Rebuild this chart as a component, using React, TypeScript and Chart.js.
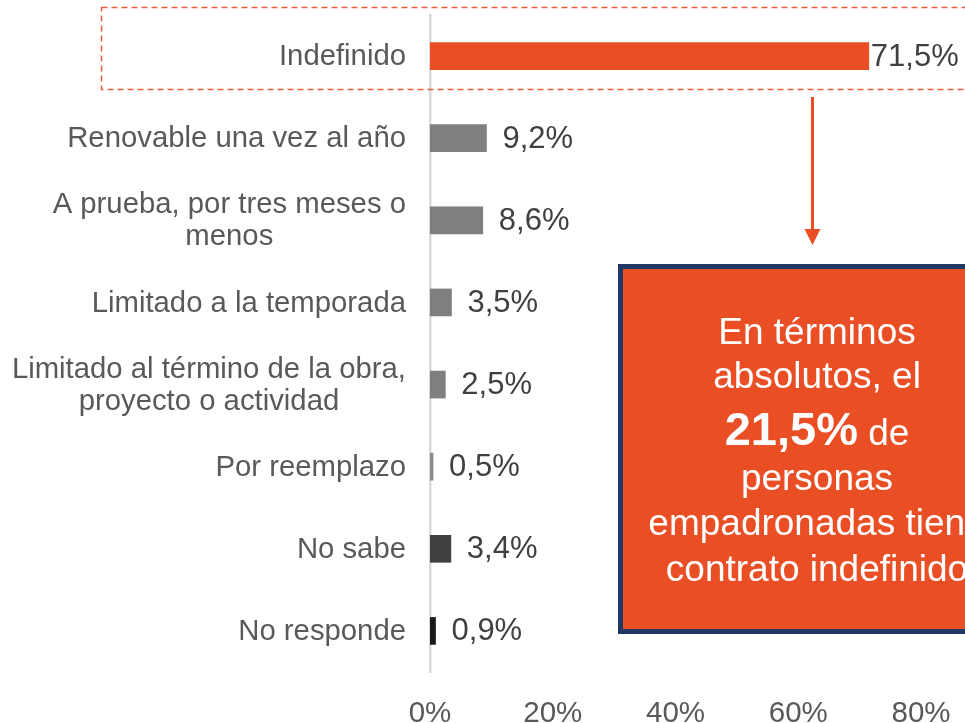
import { useEffect, useRef } from "react";
import { Chart, registerables } from "chart.js";

Chart.register(...registerables);

const categories: (string | string[])[] = [
  "Indefinido",
  "Renovable una vez al año",
  ["A prueba, por tres meses o", "menos"],
  "Limitado a la temporada",
  ["Limitado al término de la obra,", "proyecto o actividad"],
  "Por reemplazo",
  "No sabe",
  "No responde",
];
const values = [71.5, 9.2, 8.6, 3.5, 2.5, 0.5, 3.4, 0.9];
const barColors = [
  "#E94E24",
  "#7F7F7F",
  "#7F7F7F",
  "#7F7F7F",
  "#7F7F7F",
  "#8C8C8C",
  "#404040",
  "#1A1A1A",
];
const xMin = 0;
const xMax = 80;
const xStep = 20;

const calloutLines: { bold?: string; text: string }[] = [
  { text: "En términos" },
  { text: "absolutos, el" },
  { bold: "21,5%", text: " de" },
  { text: "personas" },
  { text: "empadronadas tiene" },
  { text: "contrato indefinido" },
];

const FONT = '"Liberation Sans", Arial, sans-serif';
const fmt = (v: number) => v.toFixed(1).replace(".", ",") + "%";

const overlayPlugin = {
  id: "overlay",
  afterDraw(chart: any) {
    const ctx: CanvasRenderingContext2D = chart.ctx;
    const yScale = chart.scales.y;
    ctx.save();

    // category labels (right aligned block, lines centered)
    ctx.font = `29.3px ${FONT}`;
    ctx.fillStyle = "#595959";
    ctx.textAlign = "center";
    ctx.textBaseline = "middle";
    categories.forEach((cat, i) => {
      const lines = Array.isArray(cat) ? cat : [cat];
      const w = Math.max(...lines.map((l) => ctx.measureText(l).width));
      const cx = 406 - w / 2;
      const y = yScale.getPixelForValue(i) + 1;
      lines.forEach((l, j) => {
        ctx.fillText(l, cx, y + (j - (lines.length - 1) / 2) * 32);
      });
    });

    // value labels
    const meta = chart.getDatasetMeta(0);
    ctx.font = `31px ${FONT}`;
    ctx.fillStyle = "#404040";
    ctx.textAlign = "left";
    meta.data.forEach((bar: any, i: number) => {
      ctx.fillText(fmt(values[i]), bar.x + (i === 0 ? 2 : 16), bar.y + 1);
    });

    // dashed highlight box
    ctx.setLineDash([6, 4]);
    ctx.strokeStyle = "#EC5F3E";
    ctx.lineWidth = 1.5;
    ctx.strokeRect(101.5, 7.5, 960, 82);
    ctx.setLineDash([]);

    // arrow
    ctx.strokeStyle = "#E94E24";
    ctx.lineWidth = 3;
    ctx.beginPath();
    ctx.moveTo(812.5, 97);
    ctx.lineTo(812.5, 231);
    ctx.stroke();
    ctx.fillStyle = "#E94E24";
    ctx.beginPath();
    ctx.moveTo(804.5, 229);
    ctx.lineTo(820.5, 229);
    ctx.lineTo(812.5, 245);
    ctx.closePath();
    ctx.fill();

    // callout box
    ctx.fillStyle = "#E94E24";
    ctx.fillRect(620.5, 266.5, 400, 365);
    ctx.strokeStyle = "#1F3864";
    ctx.lineWidth = 5;
    ctx.strokeRect(620.5, 266.5, 400, 365);

    const baselines = [344, 388, 445, 490, 535, 581];
    const cx = 817;
    ctx.fillStyle = "#FFFFFF";
    ctx.textBaseline = "alphabetic";
    calloutLines.forEach((ln, i) => {
      const y = baselines[i];
      if (ln.bold) {
        ctx.font = `bold 47px ${FONT}`;
        const wb = ctx.measureText(ln.bold).width;
        ctx.font = `37px ${FONT}`;
        const wt = ctx.measureText(ln.text).width;
        const start = cx - (wb + wt) / 2;
        ctx.textAlign = "left";
        ctx.font = `bold 47px ${FONT}`;
        ctx.fillText(ln.bold, start, y);
        ctx.font = `37px ${FONT}`;
        ctx.fillText(ln.text, start + wb, y);
      } else {
        ctx.font = `37px ${FONT}`;
        ctx.textAlign = "center";
        ctx.fillText(ln.text, cx, y);
      }
    });

    ctx.restore();
  },
};

export default function App() {
  const ref = useRef<HTMLCanvasElement | null>(null);

  useEffect(() => {
    if (!ref.current) return;
    const chart = new Chart(ref.current, {
      type: "bar",
      data: {
        labels: categories as any,
        datasets: [
          {
            data: values,
            backgroundColor: barColors,
            barThickness: 27,
            borderWidth: 0,
          },
        ],
      },
      options: {
        indexAxis: "y",
        animation: false,
        responsive: false,
        maintainAspectRatio: false,
        layout: { padding: { left: 430, right: 44, top: 15, bottom: 0 } },
        plugins: {
          legend: { display: false },
          tooltip: { enabled: false },
        },
        scales: {
          x: {
            min: xMin,
            max: xMax,
            grid: { display: false, drawTicks: false },
            border: { display: false },
            ticks: {
              stepSize: xStep,
              color: "#595959",
              font: { family: FONT, size: 29.5 },
              padding: 24,
              callback: (v: any) => v + "%",
            },
            afterFit: (s: any) => {
              s.height = 51;
              s.paddingLeft = 0;
              s.paddingRight = 0;
            },
          },
          y: {
            grid: { display: false, drawTicks: false },
            border: { display: true, color: "#D9D9D9", width: 2.5 },
            ticks: { display: false },
            afterFit: (s: any) => {
              s.width = 0;
            },
          },
        },
      },
      plugins: [overlayPlugin],
    });
    return () => chart.destroy();
  }, []);

  return (
    <div style={{ position: "fixed", left: 0, top: 0, width: 965, height: 723, background: "#fff" }}>
      <canvas ref={ref} width={965} height={723} style={{ display: "block" }} />
    </div>
  );
}
